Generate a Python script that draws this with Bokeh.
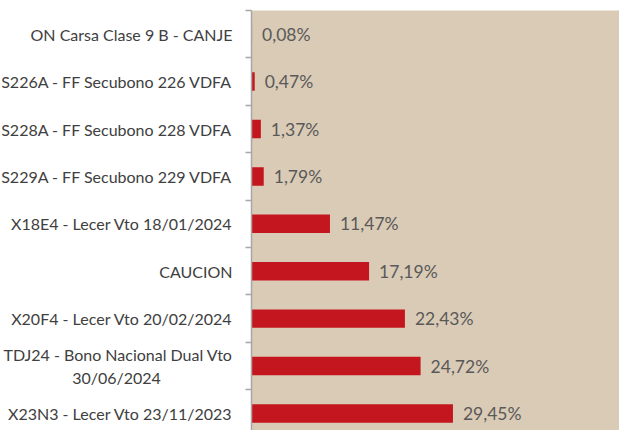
from bokeh.plotting import figure
from bokeh.layouts import row
from bokeh.models import Range1d, FixedTicker, ColumnDataSource
from bokeh.embed import file_html
from bokeh.resources import INLINE
from bokeh.core.properties import value

categories = [
    "ON Carsa Clase 9 B - CANJE",
    "S226A - FF Secubono 226 VDFA",
    "S228A - FF Secubono 228 VDFA",
    "S229A - FF Secubono 229 VDFA",
    "X18E4 - Lecer Vto 18/01/2024",
    "CAUCION",
    "X20F4 - Lecer Vto 20/02/2024",
    "TDJ24 - Bono Nacional Dual Vto",
    "X23N3 - Lecer Vto 23/11/2023",
]
second_lines = ["", "", "", "", "", "", "", "30/06/2024", ""]
values = [0.08, 0.47, 1.37, 1.79, 11.47, 17.19, 22.43, 24.72, 29.45]
value_labels = ["0,08%", "0,47%", "1,37%", "1,79%", "11,47%", "17,19%", "22,43%", "24,72%", "29,45%"]

FONT = "Lato"
LABEL_W = 236       # width of the label panel, px
LABEL_RIGHT = 232   # right edge of category labels, px
SECOND_CENTER = 116 # centre of wrapped second line, px
LINE_SHIFT = 0.25   # half a text line, in category units

positions = [i + 0.5 for i in range(len(categories))]
boundaries = list(range(len(categories) + 1))
first_pos = [pos - LINE_SHIFT if s else pos for pos, s in zip(positions, second_lines)]
wrap_pos = [pos + LINE_SHIFT for pos, s in zip(positions, second_lines) if s]
wrap_text = [s for s in second_lines if s]

yr = Range1d(8.86, 0)

# ---- label panel -------------------------------------------------------
lab = figure(
    width=LABEL_W, height=430, x_range=Range1d(0, LABEL_W), y_range=yr,
    output_backend="svg", toolbar_location=None,
    min_border_left=0, min_border_right=0, min_border_top=10, min_border_bottom=0,
)
lab.axis.visible = False
lab.grid.visible = False
lab.outline_line_color = None
lab.background_fill_color = "white"
lab.border_fill_color = "white"
lab.text(x=[LABEL_RIGHT] * len(categories), y=first_pos, text=categories,
         text_align="right", text_baseline="middle",
         text_font=value(FONT), text_font_size="16px", text_color="#404040")
lab.text(x=[SECOND_CENTER] * len(wrap_text), y=wrap_pos, text=wrap_text,
         text_align="center", text_baseline="middle",
         text_font=value(FONT), text_font_size="16px", text_color="#404040")

# ---- bar panel ---------------------------------------------------------
source = ColumnDataSource(dict(y=positions, v=values, lab=value_labels))

p = figure(
    width=619 - LABEL_W, height=430,
    x_range=Range1d(0, 53.8), y_range=yr,
    output_backend="svg", toolbar_location=None,
    min_border_left=251 - LABEL_W, min_border_right=0, min_border_top=10, min_border_bottom=0,
)
p.background_fill_color = "#DACBB6"
p.border_fill_color = "white"
p.outline_line_color = None
p.xgrid.visible = False
p.ygrid.visible = False
p.xaxis.visible = False

p.hbar(y="y", left=0, right="v", height=0.39, source=source,
       fill_color="#C3161F", line_color=None)
p.text(x="v", y="y", text="lab", source=source, x_offset=10,
       text_baseline="middle", text_align="left",
       text_font=value(FONT), text_font_size="17.5px", text_color="#595959")

ax = p.yaxis[0]
ax.ticker = FixedTicker(ticks=positions, minor_ticks=boundaries)
ax.major_label_overrides = {pos: "" for pos in positions}
ax.major_label_text_font_size = "0px"
ax.major_label_standoff = 0
ax.axis_line_color = "#A6A6A6"
ax.axis_line_width = 1.5
ax.major_tick_out = 0
ax.major_tick_in = 0
ax.minor_tick_out = 6
ax.minor_tick_in = 0
ax.minor_tick_line_color = "#A6A6A6"
ax.minor_tick_line_width = 1.5

layout = row(lab, p, spacing=0)
open("out.html", "w").write(file_html(layout, INLINE))
